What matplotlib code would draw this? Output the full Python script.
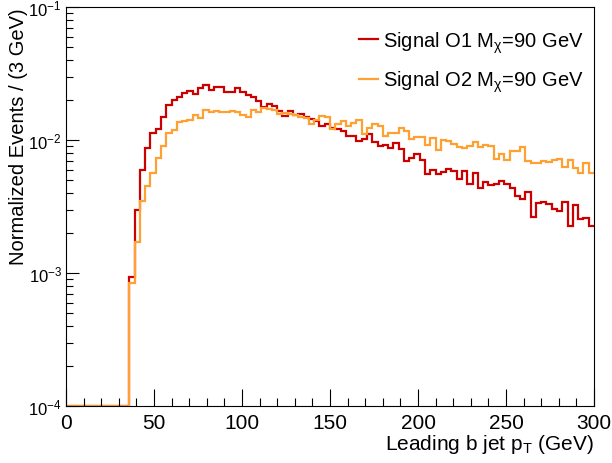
import numpy as np
import matplotlib
matplotlib.use("Agg")
import matplotlib.pyplot as plt
from matplotlib.ticker import LogLocator, MultipleLocator

plt.rcParams['font.family'] = ['Liberation Sans', 'DejaVu Sans']
plt.rcParams['mathtext.fontset'] = 'custom'
plt.rcParams['mathtext.rm'] = 'Liberation Sans'
plt.rcParams['mathtext.it'] = 'Liberation Sans'

# 3 GeV bins from 0 to 300
bin_edges = np.arange(0, 301, 3)

# normalized events per bin (first 12 bins empty)
signal_o1 = [0] * 12 + [
    9.4e-4, 3.0e-3, 5.9e-3, 8.75e-3, 1.13e-2, 1.2e-2, 1.5e-2, 1.82e-2,
    2.01e-2, 2.12e-2, 2.27e-2, 2.34e-2, 2.21e-2, 2.47e-2, 2.58e-2, 2.39e-2,
    2.52e-2, 2.52e-2, 2.31e-2, 2.31e-2, 2.47e-2, 2.28e-2, 2.18e-2, 2.12e-2,
    1.98e-2, 1.78e-2, 1.87e-2, 1.81e-2, 1.64e-2, 1.51e-2, 1.64e-2, 1.54e-2,
    1.57e-2, 1.48e-2, 1.44e-2, 1.39e-2, 1.27e-2, 1.33e-2, 1.23e-2, 1.21e-2,
    1.17e-2, 1.07e-2, 1.07e-2, 9.8e-3, 1.02e-2, 1.1e-2, 9.6e-3, 9.06e-3,
    9.1e-3, 8.75e-3, 9.45e-3, 8.6e-3, 7.0e-3, 7.35e-3, 7.9e-3, 7.1e-3,
    5.55e-3, 5.94e-3, 5.55e-3, 5.75e-3, 6.05e-3, 5.88e-3, 5.09e-3, 5.88e-3,
    4.67e-3, 5.6e-3, 4.35e-3, 4.87e-3, 4.6e-3, 4.7e-3, 4.9e-3, 4.7e-3,
    4.35e-3, 3.82e-3, 3.6e-3, 4.04e-3, 2.62e-3, 3.34e-3, 3.4e-3, 3.3e-3,
    3.03e-3, 2.94e-3, 3.44e-3, 2.27e-3, 3.25e-3, 2.55e-3, 2.6e-3, 2.27e-3]

signal_o2 = [0] * 12 + [
    8.4e-4, 1.7e-3, 3.46e-3, 4.54e-3, 5.6e-3, 7.3e-3, 8.97e-3, 1.13e-2,
    1.19e-2, 1.37e-2, 1.39e-2, 1.41e-2, 1.55e-2, 1.46e-2, 1.68e-2, 1.63e-2,
    1.64e-2, 1.61e-2, 1.63e-2, 1.66e-2, 1.61e-2, 1.55e-2, 1.49e-2, 1.68e-2,
    1.61e-2, 1.73e-2, 1.71e-2, 1.69e-2, 1.57e-2, 1.59e-2, 1.57e-2, 1.54e-2,
    1.48e-2, 1.46e-2, 1.33e-2, 1.41e-2, 1.51e-2, 1.48e-2, 1.22e-2, 1.32e-2,
    1.38e-2, 1.27e-2, 1.34e-2, 1.41e-2, 1.1e-2, 1.24e-2, 1.32e-2, 1.27e-2,
    1.08e-2, 1.13e-2, 1.13e-2, 1.24e-2, 1.16e-2, 1.02e-2, 1.05e-2, 1.05e-2,
    9.2e-3, 1.04e-2, 8.45e-3, 1.0e-2, 9.9e-3, 9.3e-3, 8.8e-3, 8.7e-3,
    9.0e-3, 9.7e-3, 8.8e-3, 9.2e-3, 9.0e-3, 7.2e-3, 7.8e-3, 7.1e-3,
    8.3e-3, 8.2e-3, 8.8e-3, 7.0e-3, 6.7e-3, 6.7e-3, 7.0e-3, 6.8e-3,
    7.1e-3, 7.2e-3, 6.3e-3, 7.1e-3, 6.2e-3, 5.65e-3, 6.7e-3, 5.65e-3]

labels = [r"Signal O1 M$_{\chi}$=90 GeV", r"Signal O2 M$_{\chi}$=90 GeV"]
colors = ["#cc0000", "#ffa033"]

ymin, ymax = 1e-4, 1e-1

fig = plt.figure(figsize=(6.12, 4.64), dpi=100)
ax = fig.add_axes([66/612, 1-407/464, (594-66)/612, (407-8)/464])

for vals, lab, col in zip([signal_o1, signal_o2], labels, colors):
    v = np.maximum(np.array(vals, dtype=float), ymin)  # empty bins sit on the floor like ROOT
    ax.stairs(v, bin_edges, color=col, lw=1.6, label=lab, baseline=None)

ax.set_yscale("log")
ax.set_xlim(0, 300)
ax.set_ylim(ymin, ymax)

ax.xaxis.set_major_locator(MultipleLocator(50))
ax.xaxis.set_minor_locator(MultipleLocator(10))
ax.yaxis.set_major_locator(LogLocator(base=10))
ax.yaxis.set_minor_locator(LogLocator(base=10, subs=np.arange(2, 10)))
ax.tick_params(which="both", direction="in", top=False, right=False)
ax.tick_params(axis="x", labelsize=15, pad=5)
ax.tick_params(axis="y", labelsize=12, pad=3)
ax.tick_params(which="major", length=9, width=0.8)
ax.tick_params(which="minor", length=5, width=0.8)
ax.tick_params(axis="x", which="major", length=12)
ax.tick_params(axis="x", which="minor", length=6)
for sp in ax.spines.values():
    sp.set_linewidth(0.8)

ax.set_xlabel(r"Leading b jet p$_{T}$ (GeV)", fontsize=15, loc="right", labelpad=0)
ax.set_ylabel("Normalized Events / (3 GeV)", fontsize=14.5, loc="top")
ax.yaxis.set_label_coords(-0.072, 1.0)

ax.legend(loc="upper right", bbox_to_anchor=(1.012, 0.985), frameon=False, fontsize=14.5,
          handlelength=0.95, handletextpad=0.25, labelspacing=0.7, borderaxespad=0.4)

fig.savefig("out.png", dpi=100)
